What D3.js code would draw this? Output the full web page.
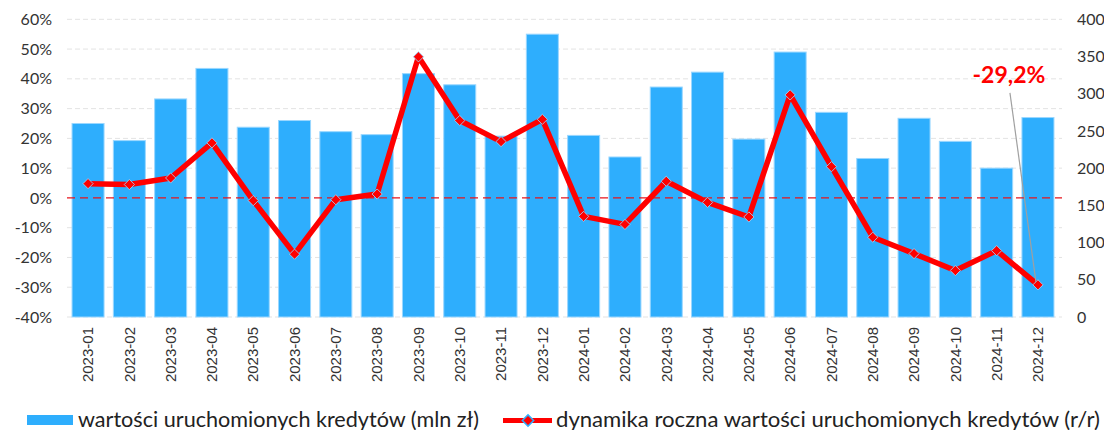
<!DOCTYPE html>
<html>
<head>
<meta charset="utf-8">
<script src="https://cdn.jsdelivr.net/npm/d3@7"></script>
<style>
  body { margin: 0; background: #fff; }
  svg { display: block; }
</style>
</head>
<body>
<script>
'use strict';

// months on the x axis
const months = ["2023-01","2023-02","2023-03","2023-04","2023-05","2023-06","2023-07","2023-08","2023-09","2023-10","2023-11","2023-12",
                "2024-01","2024-02","2024-03","2024-04","2024-05","2024-06","2024-07","2024-08","2024-09","2024-10","2024-11","2024-12"];

// loan value (mln zł), right axis
const loanValues = [260, 237, 293, 334, 255, 264, 249, 245, 327, 312, 243, 380,
                    244, 215, 309, 329, 239, 356, 275, 213, 267, 236, 200, 268];

// y/y dynamics (%), left axis
const yoyChange = [4.8, 4.5, 6.7, 18.5, -0.9, -18.9, -0.6, 1.3, 47.4, 26.0, 18.9, 26.4,
                   -6.2, -8.9, 5.6, -1.5, -6.4, 34.6, 10.5, -13.2, -18.7, -24.4, -17.7, -29.2];

const leftTicks = [-40, -30, -20, -10, 0, 10, 20, 30, 40, 50, 60];
const rightTicks = [0, 50, 100, 150, 200, 250, 300, 350, 400];

const barLegend = "wartości uruchomionych kredytów (mln zł)";
const lineLegend = "dynamika roczna wartości uruchomionych kredytów (r/r)";
const lastLabel = "-29,2%";

const W = 1104, H = 430;
const svg = d3.select('body').append('svg').attr('width', W).attr('height', H);

const x = d3.scaleBand().domain(months).range([67.5, 1058.5]).paddingInner(0.225).paddingOuter(0.11);
const yL = d3.scaleLinear().domain([-40, 60]).range([317, 19.3]);
const yR = d3.scaleLinear().domain([0, 400]).range([317, 19.3]);

// gridlines
svg.append('g').selectAll('line')
  .data(leftTicks.filter(d => d !== 0))
  .enter().append('line')
  .attr('x1', 67).attr('x2', 1062)
  .attr('y1', d => yL(d)).attr('y2', d => yL(d))
  .attr('stroke', '#e3e3e3').attr('stroke-width', 1)
  .attr('stroke-dasharray', '5,3');

// left axis
const leftAxis = svg.append('g')
  .attr('transform', 'translate(54,0)')
  .call(d3.axisLeft(yL).tickValues(leftTicks).tickSize(0).tickPadding(2).tickFormat(d => d + '%'));
leftAxis.select('.domain').remove();
leftAxis.selectAll('text').style('font-family', 'Lato').style('font-size', '16px').attr('fill', '#333');

// right axis
const rightAxis = svg.append('g')
  .attr('transform', 'translate(1077,0)')
  .call(d3.axisRight(yR).tickValues(rightTicks).tickSize(0).tickPadding(0));
rightAxis.select('.domain').remove();
rightAxis.selectAll('text').style('font-family', 'Lato').style('font-size', '16px').attr('fill', '#333');

// bars
svg.append('g').selectAll('rect')
  .data(months)
  .enter().append('rect')
  .attr('x', d => x(d))
  .attr('width', x.bandwidth())
  .attr('y', (d, i) => yR(loanValues[i]))
  .attr('height', (d, i) => yR(0) - yR(loanValues[i]))
  .attr('fill', '#2eaefd')
  .attr('stroke', '#9ad7ff')
  .attr('stroke-width', 1);

// zero line
svg.append('line')
  .attr('x1', 67).attr('x2', 1062)
  .attr('y1', yL(0)).attr('y2', yL(0))
  .attr('stroke', '#e8141c').attr('stroke-width', 1.3)
  .attr('stroke-dasharray', '8,5');

// x axis labels
const xAxis = svg.append('g')
  .attr('transform', 'translate(0,' + yL(-40) + ')')
  .call(d3.axisBottom(x).tickSize(0).tickPadding(0));
xAxis.select('.domain').remove();
xAxis.selectAll('text')
  .attr('transform', 'rotate(-90)')
  .attr('x', -10).attr('y', 0).attr('dy', '0.35em')
  .attr('text-anchor', 'end')
  .style('font-family', 'Liberation Sans').style('font-size', '15px').attr('fill', '#333');

// line
const cx = d => x(d) + x.bandwidth() / 2;
const line = d3.line()
  .x(d => cx(d))
  .y((d, i) => yL(yoyChange[i]));

svg.append('path')
  .datum(months)
  .attr('d', line)
  .attr('fill', 'none')
  .attr('stroke', '#ff0000')
  .attr('stroke-width', 5.5)
  .attr('stroke-linejoin', 'round');

svg.append('g').selectAll('rect')
  .data(months)
  .enter().append('rect')
  .attr('x', -3.6).attr('y', -3.6).attr('width', 7.2).attr('height', 7.2)
  .attr('transform', (d, i) => 'translate(' + cx(d) + ',' + yL(yoyChange[i]) + ')rotate(45)')
  .attr('fill', '#ff0000')
  .attr('stroke', '#9ad7ff').attr('stroke-width', 0.8);

// annotation for last point
const lastM = months[months.length - 1];
const lastV = yoyChange[yoyChange.length - 1];
svg.append('line')
  .attr('x1', cx(lastM) - 28).attr('y1', yL(35.3))
  .attr('x2', cx(lastM) - 2).attr('y2', yL(lastV) - 3)
  .attr('stroke', '#a0a0a0').attr('stroke-width', 1.2);

svg.append('text')
  .attr('x', cx(lastM) - 29).attr('y', yL(38.6))
  .attr('text-anchor', 'middle')
  .style('font-family', 'Lato').style('font-size', '23px').style('font-weight', 'bold')
  .attr('fill', '#ff0000')
  .text(lastLabel);

// legend
const lg = svg.append('g');
lg.append('rect')
  .attr('x', 27).attr('y', 415).attr('width', 46).attr('height', 10)
  .attr('fill', '#2eaefd');
lg.append('text')
  .attr('x', 78).attr('y', 427)
  .attr('textLength', 401).attr('lengthAdjust', 'spacingAndGlyphs')
  .style('font-family', 'Lato').style('font-size', '21px').attr('fill', '#222')
  .text(barLegend);

lg.append('line')
  .attr('x1', 503).attr('x2', 552).attr('y1', 420.5).attr('y2', 420.5)
  .attr('stroke', '#ff0000').attr('stroke-width', 5);
lg.append('rect')
  .attr('x', -4).attr('y', -4).attr('width', 8).attr('height', 8)
  .attr('transform', 'translate(528,420.5)rotate(45)')
  .attr('fill', '#ff0000').attr('stroke', '#2eaefd').attr('stroke-width', 1.5);
lg.append('text')
  .attr('x', 556).attr('y', 427)
  .attr('textLength', 544).attr('lengthAdjust', 'spacingAndGlyphs')
  .style('font-family', 'Lato').style('font-size', '21px').attr('fill', '#222')
  .text(lineLegend);
</script>
</body>
</html>
